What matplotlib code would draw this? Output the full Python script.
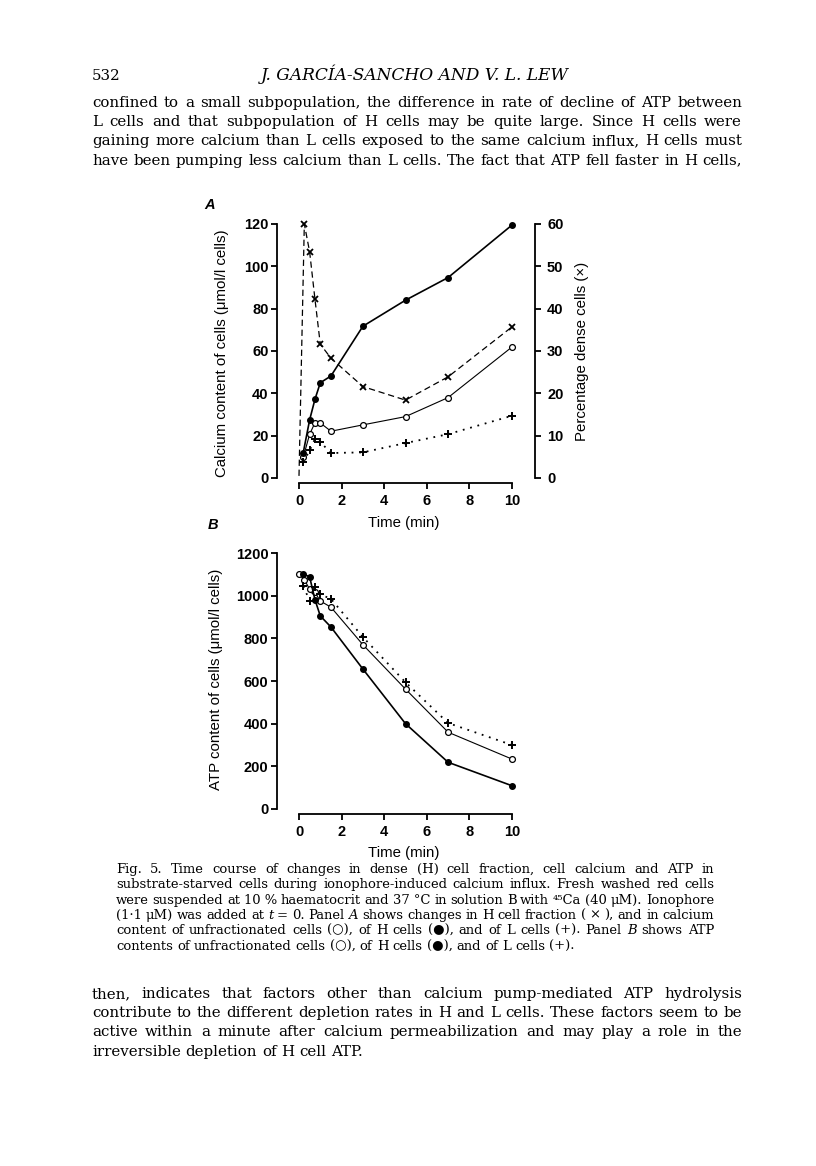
import numpy as np
import matplotlib.pyplot as plt
import matplotlib as mpl

mpl.rcParams['font.family'] = ['Liberation Sans', 'DejaVu Sans']

W, H = 816, 1166
PX = 72 / 100  # points per pixel at dpi 100

# --- page text ---
header_page = "532"
header_title = "J. GARCÍA-SANCHO AND V. L. LEW"

body_top = [
    "confined to a small subpopulation, the difference in rate of decline of ATP between",
    "L cells and that subpopulation of H cells may be quite large. Since H cells were",
    "gaining more calcium than L cells exposed to the same calcium influx, H cells must",
    "have been pumping less calcium than L cells. The fact that ATP fell faster in H cells,",
]

caption = [
    "Fig. 5. Time course of changes in dense (H) cell fraction, cell calcium and ATP in",
    "substrate-starved cells during ionophore-induced calcium influx. Fresh washed red cells",
    "were suspended at 10\u00a0% haematocrit and 37\u00a0°C in solution B with \u2074\u2075Ca (40 μM). Ionophore",
    "(1·1 μM) was added at _t_ = 0. Panel _A_ shows changes in H cell fraction ( × ), and in calcium",
    "content of unfractionated cells (○), of H cells (●), and of L cells (+). Panel _B_ shows ATP",
    "contents of unfractionated cells (○), of H cells (●), and of L cells (+).",
]

body_bottom = [
    "then, indicates that factors other than calcium pump-mediated ATP hydrolysis",
    "contribute to the different depletion rates in H and L cells. These factors seem to be",
    "active within a minute after calcium permeabilization and may play a role in the",
    "irreversible depletion of H cell ATP.",
]

# --- panel A data: time (min) and calcium (umol/l cells) / % dense cells ---
t_h = [0.2, 0.5, 0.75, 1.0, 1.5, 3, 5, 7, 10]
ca_h = [12, 27.5, 37.2, 45, 48.2, 71.7, 84, 94.7, 119.5]

t_u = [0.2, 0.5, 0.75, 1.0, 1.5, 3, 5, 7, 10]
ca_u = [9.8, 20.7, 26.1, 26.0, 22.1, 25.1, 29.0, 38.0, 61.9]

t_l = [0.2, 0.5, 0.75, 1.0, 1.5, 3, 5, 7, 10]
ca_l = [7.5, 13.0, 18.5, 17.0, 11.8, 12.1, 16.5, 20.7, 29.4]

t_dense = [0, 0.25, 0.5, 0.75, 1.0, 1.5, 3, 5, 7, 10]
pct_dense = [0.5, 60, 53.4, 42.2, 31.6, 28.3, 21.6, 18.4, 23.9, 35.7]

# --- panel B data: ATP (umol/l cells) ---
tb_h = [0.2, 0.5, 0.75, 1.0, 1.5, 3, 5, 7, 10]
atp_h = [1102, 1088, 981, 905, 853, 656, 400, 219, 109]

tb_u = [0, 0.25, 0.5, 0.75, 1.0, 1.5, 3, 5, 7, 10]
atp_u = [1100, 1075, 1030, 1015, 975, 946, 770, 562, 360, 234]

tb_l = [0.2, 0.5, 0.75, 1.0, 1.5, 3, 5, 7, 10]
atp_l = [1044, 977, 1042, 1006, 985, 806, 594, 403, 300]

ca_ticks = [0, 20, 40, 60, 80, 100, 120]
pct_ticks = [0, 10, 20, 30, 40, 50, 60]
atp_ticks = [0, 200, 400, 600, 800, 1000, 1200]
time_ticks = [0, 2, 4, 6, 8, 10]

fig = plt.figure(figsize=(W / 100, H / 100), dpi=100)
renderer = fig.canvas.get_renderer()
SERIF = ['DejaVu Serif', 'DejaVu Sans']


def text_width(s, size, style='normal', family=SERIF):
    t = fig.text(0, 0, s, fontsize=size, style=style, family=family)
    w = t.get_window_extent(renderer).width
    t.remove()
    return w


def put_line(s, x0, x1, y, size, justify=True):
    # lay a line out word by word, stretching the gaps to fill x0..x1
    words = s.split(' ')
    items = []
    for w in words:
        st = 'normal'
        if w.startswith('_'):
            w = w.replace('_', '')
            st = 'italic'
        items.append((w, st, text_width(w, size, st)))
    total = sum(i[2] for i in items)
    if justify and len(items) > 1:
        gap = (x1 - x0 - total) / (len(items) - 1)
    else:
        gap = text_width('a a', size) - text_width('aa', size)
    x = x0
    for w, st, wd in items:
        fig.text(x / W, 1 - y / H, w, fontsize=size, style=st, family=SERIF,
                 ha='left', va='baseline')
        x += wd + gap


def fit_size(lines, width, fill=0.975):
    base = 10
    nat = max(text_width(l.replace('_', ''), base) for l in lines)
    return base * width * fill / nat


# header
body_x0, body_x1 = 92, 742
bsize = fit_size(body_top[:1], body_x1 - body_x0)
fig.text(body_x0 / W, 1 - 80 / H, header_page, fontsize=bsize, family=SERIF,
         ha='left', va='baseline')
tsize = 10 * 308 / text_width(header_title, 10, 'italic')
fig.text(415 / W, 1 - 80 / H, header_title, fontsize=tsize, style='italic',
         family=SERIF, ha='center', va='baseline')

for i, line in enumerate(body_top):
    put_line(line, body_x0, body_x1, 107 + i * 19.2, bsize)

cap_x0, cap_x1 = 116, 714
csize = fit_size(caption[1:2], cap_x1 - cap_x0, fill=0.99)
for i, line in enumerate(caption):
    put_line(line, cap_x0, cap_x1, 873 + i * 15.3, csize, justify=i < len(caption) - 1)

for i, line in enumerate(body_bottom):
    put_line(line, body_x0, body_x1, 998 + i * 19.2, bsize, justify=i < len(body_bottom) - 1)


# --- charts ---
TICK = dict(direction='out', length=6 * PX, width=1.3, labelsize=10.5, pad=2.5 * PX)


def bold_labels(ax):
    for lbl in ax.get_xticklabels() + ax.get_yticklabels():
        lbl.set_fontweight('bold')


def style_axis(ax, yticks, ybounds):
    for s in ['top', 'right']:
        ax.spines[s].set_visible(False)
    ax.spines['left'].set_position(('outward', 22 * PX))
    ax.spines['bottom'].set_position(('outward', 5 * PX))
    ax.spines['left'].set_bounds(*ybounds)
    ax.spines['bottom'].set_bounds(0, 10)
    for s in ['left', 'bottom']:
        ax.spines[s].set_linewidth(1.3)
    ax.set_xticks(time_ticks)
    ax.set_yticks(yticks)
    ax.tick_params(**TICK)
    ax.tick_params(axis='x', pad=5 * PX)
    bold_labels(ax)
    ax.patch.set_visible(False)


filled = dict(marker='o', ms=4, mfc='black', mec='black', color='black', clip_on=False)
opened = dict(marker='o', ms=4.2, mfc='white', mec='black', mew=0.9, color='black', clip_on=False)
plus = dict(marker='+', ms=5.5, mew=1.4, color='black', clip_on=False)

# panel A
axA = fig.add_axes([299 / W, 1 - 478 / H, 213 / W, 254 / H])
axA.set_xlim(0, 10)
axA.set_ylim(0, 120)
style_axis(axA, ca_ticks, (0, 120))
axA.plot(t_u, ca_u, lw=0.8, zorder=3, **opened)
axA.plot(t_l, ca_l, lw=1.3, dashes=(1, 3.2), zorder=3, **plus)
axA.plot(t_h, ca_h, lw=1.2, zorder=4, **filled)

axA2 = axA.twinx()
axA2.set_ylim(0, 60)
for s in ['left', 'top', 'bottom']:
    axA2.spines[s].set_visible(False)
axA2.spines['right'].set_position(('outward', 23 * PX))
axA2.spines['right'].set_bounds(0, 60)
axA2.spines['right'].set_linewidth(1.3)
axA2.set_yticks(pct_ticks)
axA2.tick_params(direction='out', length=6 * PX, width=1.3, labelsize=10.5, pad=6 * PX)
bold_labels(axA2)
axA2.plot(t_dense, pct_dense, color='black', lw=0.9, dashes=(5, 3), clip_on=False,
          marker='x', ms=4.5, mew=1.3, markevery=list(range(1, len(t_dense))))

fig.text(222 / W, 1 - 353 / H, "Calcium content of cells (μmol/l cells)", rotation=90,
         fontsize=10.8, ha='center', va='center')
fig.text(582 / W, 1 - 351 / H, "Percentage dense cells (×)", rotation=90,
         fontsize=10.8, ha='center', va='center')
fig.text(404 / W, 1 - 523 / H, "Time (min)", fontsize=10.8, ha='center', va='center')
fig.text(210 / W, 1 - 205 / H, "A", fontsize=10.5, style='italic', weight='bold',
         ha='center', va='center')

# panel B
axB = fig.add_axes([299 / W, 1 - 809 / H, 213 / W, 256 / H])
axB.set_xlim(0, 10)
axB.set_ylim(0, 1200)
style_axis(axB, atp_ticks, (0, 1200))
axB.plot(tb_u, atp_u, lw=0.8, zorder=3, **opened)
axB.plot(tb_l, atp_l, lw=1.3, dashes=(1, 3.2), zorder=3, **plus)
axB.plot(tb_h, atp_h, lw=1.2, zorder=4, **filled)

fig.text(216 / W, 1 - 679 / H, "ATP content of cells (μmol/l cells)", rotation=90,
         fontsize=10.8, ha='center', va='center')
fig.text(404 / W, 1 - 853 / H, "Time (min)", fontsize=10.8, ha='center', va='center')
fig.text(213 / W, 1 - 525 / H, "B", fontsize=10.5, style='italic', weight='bold',
         ha='center', va='center')

fig.savefig('out.png', dpi=100)
